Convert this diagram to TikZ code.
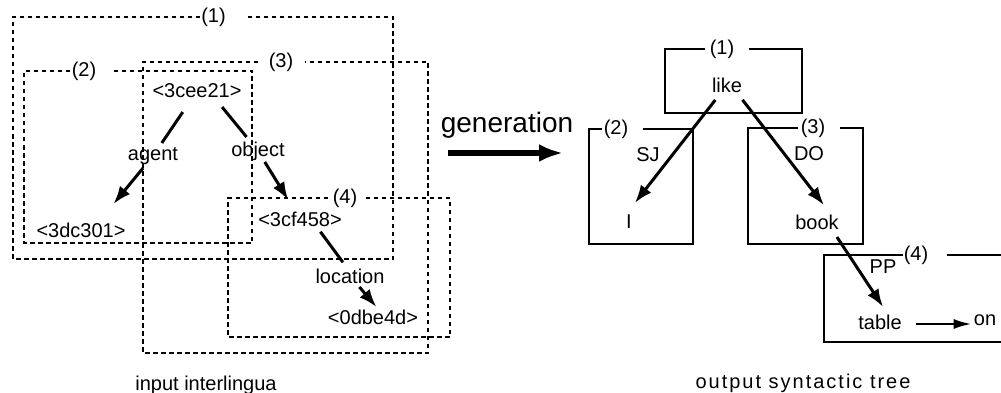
\documentclass[tikz,border=0pt]{standalone}
\usepackage{fontspec}
\setmainfont{Liberation Sans}
\newfontfamily\widefont[LetterSpace=10]{Liberation Sans}
\usetikzlibrary{arrows.meta}

\begin{document}
\begin{tikzpicture}[x=1pt,y=-1pt,
  lbl/.style={font=\fontsize{20}{24}\selectfont, inner sep=0pt},
  dbox/.style={line width=2pt, dash pattern=on 4.5pt off 3.5pt},
  sbox/.style={line width=2.6pt, line join=miter},
  link/.style={line width=3pt},
  arr/.style={line width=3pt, -{Latex[length=18pt,width=13pt]}},
  smallarr/.style={line width=2.4pt, -{Latex[length=18pt,width=10pt]}},
]
\useasboundingbox (0,0) rectangle (1001,393);

% ---- input interlingua: nested dashed frames ----
\node[lbl] (L1) at (213.5,17) {(1)};
\draw[dbox] (200,17) -- (13,17) -- (13,259) -- (393,259) -- (393,17) -- (245,17);
\node[lbl] (L2) at (84,71) {(2)};
\draw[dbox] (70,71) -- (24,71) -- (24,243) -- (252,243) -- (252,71) -- (113,71);
\node[lbl] (L3) at (281,62) {(3)};
\draw[dbox] (258,62) -- (143,62) -- (143,353) -- (428,353) -- (428,62) -- (305,62);
\node[lbl] (L4) at (345,198) {(4)};
\draw[dbox] (328,198) -- (228,198) -- (228,337) -- (450,337) -- (450,198) -- (363,198);

\node[lbl] (c21)    at (197,91)  {<3cee21>};
\node[lbl] (d301)   at (81,230)  {<3dc301>};
\node[lbl] (agent)  at (153,156) {agent};
\node[lbl] (object) at (258,151) {object};
\node[lbl] (c458)   at (300,219) {<3cf458>};
\node[lbl] (loc)    at (350,276) {location};
\node[lbl] (e4d)    at (373,317) {<0dbe4d>};

\draw[link, shorten <=25.4pt, shorten >=15.7pt] (c21.center) -- (agent.center);
\draw[arr, shorten <=15.6pt, shorten >=33.7pt] (agent.center) -- ([xshift=11pt]d301.center);
\draw[link, shorten <=20.7pt, shorten >=18.1pt] ([xshift=12pt]c21.center) -- (object.center);
\draw[arr, shorten <=12.9pt, shorten >=22.3pt] (object.center) -- (c458.center);
\draw[link, shorten <=15.8pt, shorten >=17pt] ([xshift=11pt]c458.center) -- ([xshift=3pt]loc.center);
\draw[arr, shorten <=14.5pt, shorten >=13.1pt] (loc.center) -- ([xshift=12pt]e4d.center);

% ---- generation step ----
\node[font=\fontsize{28}{32}\selectfont, inner sep=0pt] (gen) at (507,125) {generation};
\coordinate (g0) at (448,153);
\coordinate (g1) at (563,153);
\draw[line width=5pt, -{Latex[length=24pt,width=18pt]}] (g0) -- (g1);

% ---- output syntactic tree: solid frames ----
\node[lbl] (R1) at (722,49) {(1)};
\draw[sbox] (705,49) -- (665,49) -- (665,113) -- (802,113) -- (802,49) -- (749,49);
\node[lbl] (R2) at (616,129) {(2)};
\draw[sbox] (602,129) -- (589,129) -- (589,244) -- (693,244) -- (693,129) -- (643,129);
\node[lbl] (R3) at (813,128) {(3)};
\draw[sbox] (798,128) -- (748,128) -- (748,244) -- (863,244) -- (863,128) -- (840,128);
\node[lbl] (R4) at (916,255) {(4)};
\draw[sbox] (903,255) -- (824,255) -- (824,342) -- (1001,342);
\draw[sbox] (947,255) -- (1001,255);

\node[lbl] (like)  at (727,85)  {like};
\node[lbl] (SJ)    at (648,155) {SJ};
\node[lbl] (I)     at (629,222) {I};
\node[lbl] (DO)    at (809,154) {DO};
\node[lbl] (book)  at (817,222) {book};
\node[lbl] (PP)    at (883,267) {PP};
\node[lbl] (table) at (880,322) {table};
\node[lbl] (on)    at (985,320) {on};

\draw[arr, shorten <=19pt, shorten >=24.1pt] (like.center) -- ([xshift=-9pt]I.center);
\draw[arr, shorten <=18.8pt, shorten >=21.3pt] ([xshift=4pt]like.center) -- ([xshift=20pt]book.center);
\draw[arr, shorten <=18pt, shorten >=18pt] ([xshift=10pt]book.center) -- ([xshift=13pt]table.center);
\draw[smallarr, shorten <=14pt, shorten >=2pt] ([yshift=-2pt]table.east) -- ([yshift=-2pt]table.east -| on.west);

% ---- captions ----
\node[lbl] (cin) at (206,385) {input interlingua};
\node[font=\widefont\fontsize{20}{22}\selectfont, inner sep=0pt] (cout) at (803,383) {output syntactic tree};
\end{tikzpicture}
\end{document}
